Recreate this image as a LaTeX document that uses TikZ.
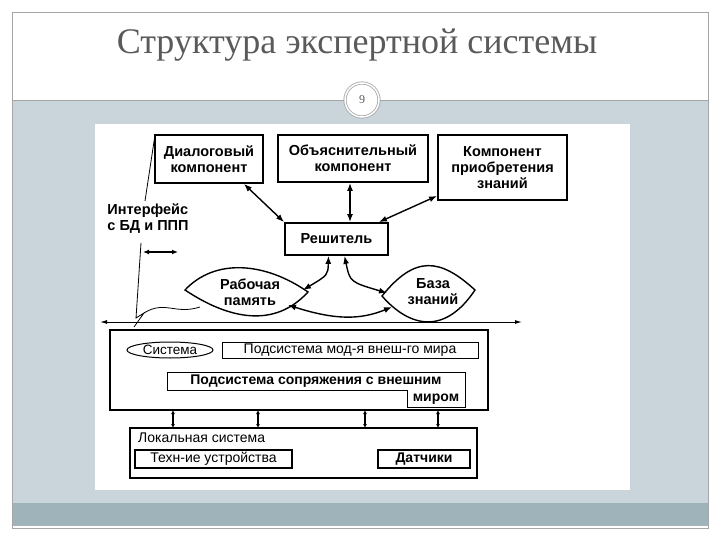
\documentclass[tikz,border=0pt]{standalone}
\usepackage{fontspec}
\setmainfont{Liberation Sans}
\newfontfamily\titlefont{Liberation Serif}
\usetikzlibrary{arrows.meta,shapes.geometric}
\definecolor{panel}{HTML}{CAD5DB}
\definecolor{band}{HTML}{9FB3BB}
\definecolor{ttl}{HTML}{5A5A5A}
\begin{document}
\begin{tikzpicture}[x=1pt,y=-1pt,
  box/.style={draw,line width=1.8pt,font=\bfseries\fontsize{14.5}{16}\selectfont,align=center,inner sep=0pt},
  thin/.style={draw,line width=1pt,font=\bfseries\fontsize{14}{15}\selectfont,inner sep=0pt},
  arr/.style={line width=1.4pt,{Latex[length=8pt,width=6pt]}-{Latex[length=8pt,width=6pt]}},
  lbl/.style={font=\bfseries\fontsize{14.5}{16}\selectfont,align=center}]
\useasboundingbox (0,0) rectangle (720,540);
\fill[white] (0,0) rectangle (720,540);
\fill[panel] (12,100) rectangle (708,503);
\fill[band] (12,503) rectangle (708,526);
\draw[gray!70,line width=0.6pt] (12,12) rectangle (708,528);
\draw[gray!70,line width=0.6pt] (12,100) -- (708,100);
\node[text=ttl,font=\titlefont\fontsize{36}{38}\selectfont] (title) at (357,45) {Структура экспертной системы};
\node[circle,draw=gray!70,fill=white,line width=0.8pt,minimum size=34pt,double,double distance=1.5pt,font=\titlefont\fontsize{12}{12}\selectfont,text=ttl] (pg) at (362,100) {9};
\fill[white] (95,124) rectangle (630,490);
% top boxes
\node[box,minimum width=108pt,minimum height=48pt] (dlg) at (209,159) {Диалоговый\\компонент};
\node[box,minimum width=150pt,minimum height=47pt] (obj) at (353,158.5) {Объяснительный\\компонент};
\node[box,minimum width=129pt,minimum height=65pt] (kpz) at (502.5,167.5) {Компонент\\приобретения\\знаний};
\node[box,minimum width=103pt,minimum height=32pt] (res) at (336.5,239) {Решитель};
% lenses
\draw[line width=1.4pt] (185,290) .. controls (215,258) and (265,262) .. (308,292) .. controls (275,328) and (230,320) .. cycle;
\node[lbl] (rp) at (250,292) {Рабочая\\память};
\draw[line width=1.4pt] (382,296) .. controls (415,255) and (440,258) .. (475,290) .. controls (445,335) and (410,328) .. cycle;
\node[lbl] (bz) at (433,292) {База\\знаний};
\coordinate (rpr) at (303,290);
\coordinate (rpb) at (288,305);
\coordinate (bzl) at (387,293);
\coordinate (bzb) at (392,307);
% arrows
\draw[arr] (dlg.south east) ++(-20,0) -- (res.north west);
\draw[arr] (obj.south) ++(-3,0) -- ([xshift=-3pt]obj.south |- res.north);
\draw[arr] (kpz.south west) ++(0,-5) -- ([xshift=-10pt]res.north east);
\draw[arr] ([xshift=-8pt]res.south) .. controls (328,275) .. (rpr);
\draw[arr] ([xshift=8pt]res.south) .. controls (350,282) .. (bzl);
\draw[arr] (rpb) .. controls (335,320) and (360,320) .. (bzb);
% interface
\node[lbl,align=left] (intf) at (148,219) {Интерфейс\\с БД и ППП};
\coordinate (i1) at (155,135);
\coordinate (i2) at (145,201);
\draw[line width=0.8pt] (i1) -- (i2);
\coordinate (i3) at (141,243);
\coordinate (z1) at (136,318);
\coordinate (z2) at (144,313);
\coordinate (z3) at (134,327);
\draw[line width=0.8pt] (i3) -- (z1) -- (z2) -- (z3);
\draw[line width=0.8pt] (z2) .. controls (165,300) and (175,315) .. (200,307);
\coordinate (s1) at (143,252);
\coordinate (s2) at (178,252);
\draw[line width=1.5pt,{Latex[length=6pt,width=5pt]}-{Latex[length=6pt,width=5pt]}] (s1) -- (s2);
\coordinate (h1) at (100,322);
\coordinate (h2) at (522,322);
\draw[line width=1pt,{Latex[length=7pt,width=4pt]}-{Latex[length=7pt,width=4pt]}] (h1) -- (h2);
% bottom system
\node[box,minimum width=378pt,minimum height=80pt] (sys) at (299,370) {};
\node[thin,ellipse,minimum width=86pt,minimum height=16pt,inner xsep=-4pt,font=\fontsize{13.5}{14}\selectfont] (sst) at (170,350) {Система};
\node[thin,minimum width=256pt,minimum height=16pt,font=\fontsize{14}{15}\selectfont] (msub) at (350,350) {Подсистема мод-я внеш-го мира};
\draw[line width=1pt] (167,372) -- (465,372) -- (465,407) -- (407,407) -- (407,390) -- (167,390) -- cycle;
\node[lbl,font=\bfseries\fontsize{14}{15}\selectfont] (sop) at (316,381) {Подсистема сопряжения с внешним};
\node[lbl,font=\bfseries\fontsize{14}{15}\selectfont] (mir) at (436,399) {миром};
\node[box,minimum width=347pt,minimum height=50pt] (loc) at (303.5,453) {};
\node[font=\fontsize{14}{15}\selectfont,anchor=west,inner sep=0pt] (lct) at (138,438) {Локальная система};
\node[thin,line width=1.4pt,minimum width=157pt,minimum height=18pt,font=\fontsize{14}{15}\selectfont] (tech) at (213.5,459) {Техн-ие устройства};
\node[thin,line width=1.4pt,minimum width=92pt,minimum height=18pt,font=\bfseries\fontsize{14}{15}\selectfont] (dat) at (424,459) {Датчики};
\foreach \x in {173,258,365,438}
  \draw[line width=1.3pt,{Latex[length=4pt,width=4pt]}-{Latex[length=4pt,width=4pt]}] (\x,410) -- (\x,428);
\end{tikzpicture}
\end{document}
